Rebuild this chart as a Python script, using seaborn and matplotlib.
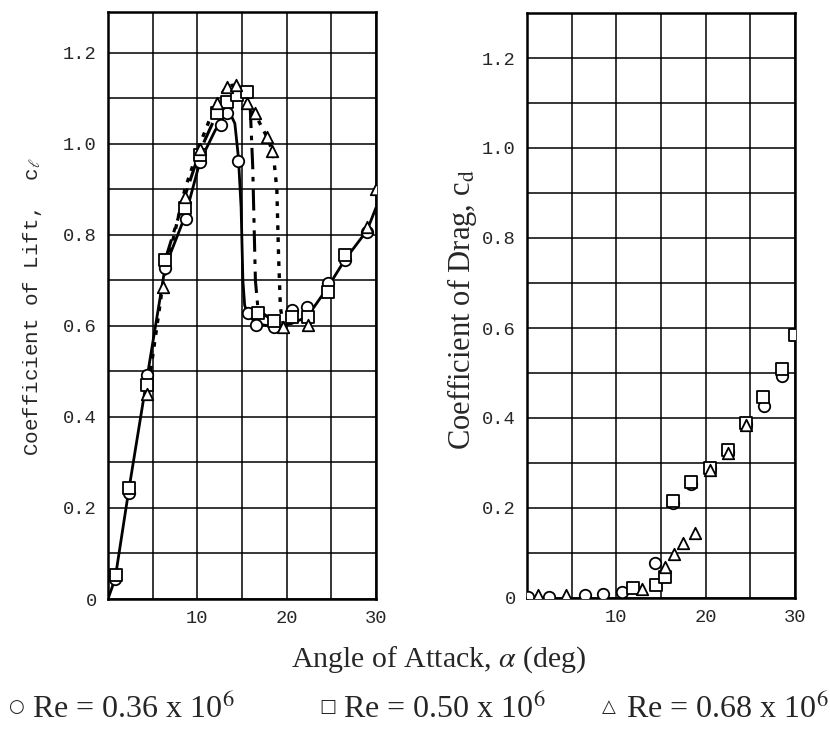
import matplotlib
matplotlib.use("Agg")
import matplotlib.pyplot as plt
import seaborn as sns

sns.set_theme(style="white")
plt.rcParams["mathtext.fontset"] = "stix"
plt.rcParams["font.family"] = ["Liberation Serif", "DejaVu Sans"]

# ---- lift coefficient measurements (angle of attack in deg) ----
a_lift_036 = [0.8, 2.3, 4.4, 6.4, 8.7, 10.3, 12.7, 13.3, 14.6, 15.7, 16.6, 18.6, 20.6, 22.3, 24.6, 26.5, 29.0]
cl_036 = [0.043, 0.234, 0.492, 0.728, 0.834, 0.961, 1.042, 1.067, 0.963, 0.628, 0.602, 0.597, 0.635, 0.642, 0.694, 0.745, 0.807]

a_lift_050 = [0.9, 2.3, 4.4, 6.4, 8.6, 10.3, 12.2, 13.3, 14.4, 15.6, 16.8, 18.6, 20.6, 22.4, 24.6, 26.5]
cl_050 = [0.053, 0.245, 0.470, 0.745, 0.860, 0.976, 1.067, 1.093, 1.108, 1.115, 0.628, 0.610, 0.620, 0.620, 0.675, 0.756]

a_lift_068 = [4.4, 6.2, 8.6, 10.3, 12.2, 13.3, 14.3, 15.6, 16.4, 17.8, 18.4, 19.6, 22.4, 29.0, 30.0]
cl_068 = [0.450, 0.685, 0.883, 0.990, 1.091, 1.126, 1.130, 1.091, 1.069, 1.016, 0.985, 0.598, 0.602, 0.818, 0.900]

# faired curves through the lift data
fair_a_036 = [0, 0.8, 2.3, 4.4, 6.4, 8.7, 10.3, 12.0, 13.0, 13.7, 14.2, 14.6, 14.9, 15.1, 15.3, 15.7,
              16.6, 18.6, 20.5, 22.3, 24.6, 26.5, 29.0, 30.0]
fair_cl_036 = [0, 0.045, 0.236, 0.490, 0.730, 0.845, 0.962, 1.030, 1.060, 1.066, 1.045, 0.970, 0.860,
               0.700, 0.645, 0.625, 0.605, 0.598, 0.605, 0.620, 0.685, 0.745, 0.810, 0.860]
fair_a_050 = [6.4, 8.6, 10.3, 12.2, 13.3, 14.4, 15.3, 15.9, 16.2, 16.5, 16.8, 18.6, 20.5]
fair_cl_050 = [0.745, 0.885, 0.985, 1.067, 1.093, 1.108, 1.112, 1.090, 0.950, 0.700, 0.635, 0.610, 0.605]
fair_a_068 = [4.4, 6.2, 8.6, 10.3, 12.2, 13.3, 14.3, 15.6, 16.4, 17.8, 18.5, 18.9, 19.1, 19.3, 19.6, 20.5]
fair_cl_068 = [0.450, 0.700, 0.900, 1.000, 1.095, 1.127, 1.130, 1.091, 1.068, 1.015, 0.980, 0.900,
               0.750, 0.640, 0.605, 0.600]

# ---- drag coefficient measurements ----
a_drag_036 = [0.1, 2.5, 6.5, 8.5, 10.6, 14.3, 16.35, 18.4, 20.5, 22.5, 24.5, 26.5, 28.6]
cd_036 = [0.003, 0.003, 0.007, 0.010, 0.014, 0.077, 0.212, 0.253, 0.288, 0.325, 0.386, 0.427, 0.493]

a_drag_050 = [11.9, 14.4, 15.5, 16.35, 18.4, 20.5, 22.5, 24.5, 26.4, 28.6, 29.95]
cd_050 = [0.022, 0.029, 0.047, 0.215, 0.257, 0.290, 0.330, 0.390, 0.446, 0.510, 0.585]

a_drag_068 = [1.2, 4.4, 12.9, 15.4, 16.4, 17.5, 18.8, 20.5, 22.5, 24.5]
cd_068 = [0.007, 0.007, 0.019, 0.070, 0.097, 0.123, 0.144, 0.285, 0.322, 0.384]

x_ticks = [10, 20, 30]
y_tick_labels = ["0", "0.2", "0.4", "0.6", "0.8", "1.0", "1.2"]
legend_labels = [r"Re = 0.36 x 10$^6$", r"Re = 0.50 x 10$^6$", r"Re = 0.68 x 10$^6$"]

W, H = 830, 732
fig = plt.figure(figsize=(W / 100, H / 100), dpi=100)
ax_l = fig.add_axes([108 / W, 1 - 599 / H, (376 - 108) / W, (599 - 12) / H])
ax_r = fig.add_axes([527 / W, 1 - 598 / H, (795 - 527) / W, (598 - 13) / H])

mono = ["Liberation Mono", "DejaVu Sans Mono"]
tick_font = dict(family=mono, size=13.5)


def style_axes(ax, ymax):
    ax.set_xlim(0, 30)
    ax.set_ylim(0, ymax)
    grid_x = list(range(0, 31, 5))
    grid_y = [i / 10 for i in range(0, 13)]
    ax.set_xticks(grid_x)
    ax.set_yticks(grid_y)
    ax.grid(True, color="black", linewidth=1.1)
    ax.set_axisbelow(True)
    for s in ax.spines.values():
        s.set_color("black")
        s.set_linewidth(1.8)
    ax.tick_params(length=0, pad=8)
    ax.set_xticklabels([str(v) if v in x_ticks else "" for v in grid_x], **tick_font)
    ylabels = [""] * len(grid_y)
    for k, lab in enumerate(y_tick_labels):
        ylabels[2 * k] = lab
    ax.set_yticklabels(ylabels, **tick_font)
    ax.set_xlabel("")
    ax.set_ylabel("")


marker_kw = dict(s=68, color="white", edgecolor="black", linewidth=1.3, zorder=4, clip_on=True)

# lift panel
sns.lineplot(x=fair_a_036, y=fair_cl_036, sort=False, estimator=None, color="black",
             linewidth=2.0, ax=ax_l, zorder=3)
sns.lineplot(x=fair_a_050, y=fair_cl_050, sort=False, estimator=None, color="black",
             linewidth=2.2, linestyle=(0, (7, 2.5, 1.5, 2.5)), ax=ax_l, zorder=3)
sns.lineplot(x=fair_a_068, y=fair_cl_068, sort=False, estimator=None, color="black",
             linewidth=2.4, linestyle=(0, (1.4, 2.2)), ax=ax_l, zorder=3)
sns.scatterplot(x=a_lift_036, y=cl_036, marker="o", ax=ax_l, **marker_kw)
sns.scatterplot(x=a_lift_050, y=cl_050, marker="s", ax=ax_l, **marker_kw)
sns.scatterplot(x=a_lift_068, y=cl_068, marker="^", ax=ax_l, **marker_kw)

# drag panel
sns.scatterplot(x=a_drag_036, y=cd_036, marker="o", ax=ax_r, **marker_kw)
sns.scatterplot(x=a_drag_050, y=cd_050, marker="s", ax=ax_r, **marker_kw)
sns.scatterplot(x=a_drag_068, y=cd_068, marker="^", ax=ax_r, **marker_kw)

style_axes(ax_l, 1.29)
style_axes(ax_r, 1.30)

fig.text(33 / W, 1 - 307 / H, r"Coefficient of Lift,  c$_{\ell}$", rotation=90, ha="center",
         va="center", family=mono, size=15)
fig.text(462 / W, 1 - 310 / H, r"Coefficient of Drag, c$_\mathrm{d}$", rotation=90, ha="center",
         va="center", size=22)
fig.text(439 / W, 1 - 660 / H, r"Angle of Attack, $\alpha$ (deg)", ha="center", va="center", size=21.5)

legend_x = [8, 319, 602]
legend_sym = ["\u25cb", "\u25a1", "\u25b3"]
for x0, sym, lab in zip(legend_x, legend_sym, legend_labels):
    fig.text(x0 / W, 1 - 712 / H, sym, ha="left", va="baseline", size=13,
             family=["DejaVu Sans"])
    fig.text((x0 + 24) / W, 1 - 718 / H, lab, ha="left", va="baseline", size=23)

fig.savefig("out.png", dpi=100)
